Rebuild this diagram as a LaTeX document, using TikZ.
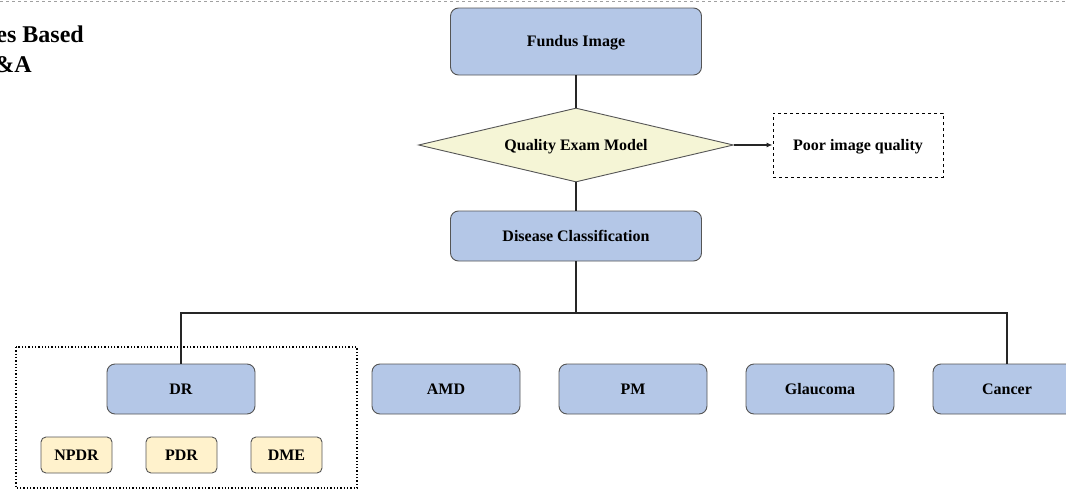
\documentclass[tikz,border=0pt]{standalone}
\usepackage{fontspec}
\setmainfont{Liberation Serif}
\usetikzlibrary{shapes.geometric,arrows.meta}
\definecolor{boxblue}{HTML}{B4C7E7}
\definecolor{boxedge}{HTML}{555555}
\definecolor{subyellow}{HTML}{FFF2CC}
\definecolor{qyellow}{HTML}{F5F5D6}
\definecolor{rulegrey}{HTML}{A0A0A0}
\begin{document}
\begin{tikzpicture}[x=1pt,y=-1pt,
  lbl/.style={font=\fontsize{16}{19}\selectfont\bfseries, text=black,
    text height=10pt, text depth=0pt},
  bluebox/.style={lbl, draw=boxedge, line width=0.9pt, fill=boxblue,
    rounded corners=8pt, inner sep=0pt, minimum width=148pt, minimum height=50pt},
  subbox/.style={lbl, draw=boxedge, line width=0.9pt, fill=subyellow,
    rounded corners=5pt, inner sep=0pt, minimum width=71pt, minimum height=36pt},
  decision/.style={lbl, diamond, draw=boxedge, line width=0.9pt, fill=qyellow,
    inner sep=0pt, aspect=4.26, minimum width=315pt, minimum height=74pt},
  dashbox/.style={lbl, draw=black, dashed, line width=0.9pt, inner sep=0pt,
    minimum width=170pt, minimum height=64pt},
  link/.style={draw=black!85, line width=1.8pt},
  title/.style={font=\fontsize{24}{29}\selectfont\bfseries, inner sep=0pt}
]
\useasboundingbox (0,0) rectangle (1066,490);
\clip (0,0) rectangle (1066,490);

% header rule and title
\draw[rulegrey, dashed, line width=0.8pt] (0,1.5) -- (1066,1.5);
\node[title, anchor=base east] (title1) at (84,42) {es Based};
\node[title, anchor=base east] (title2) at (32,72) {\&A};

% main pipeline
\node[bluebox, minimum width=251pt, minimum height=67pt] (fundus) at (576,41.5) {Fundus Image};
\node[decision] (qem) at (576,145) {Quality Exam Model};
\node[dashbox] (poor) at (858,145) {Poor image quality};
\node[bluebox, minimum width=251pt] (disease) at (576,236) {Disease Classification};

% disease categories
\node[bluebox] (dr) at (181,389) {DR};
\node[bluebox] (amd) at (446,389) {AMD};
\node[bluebox] (pm) at (633,389) {PM};
\node[bluebox] (glaucoma) at (820,389) {Glaucoma};
\node[bluebox] (cancer) at (1007,389) {Cancer};

% DR sub-types
\draw[black, dotted, line width=1.3pt] (16,347) rectangle (357,488);
\node[subbox] (npdr) at (76.5,455) {NPDR};
\node[subbox] (pdr) at (181.5,455) {PDR};
\node[subbox] (dme) at (286.5,455) {DME};

% connectors
\draw[link] (fundus.south) -- (qem.north);
\draw[link, line width=1.4pt, -{Latex[length=6pt,width=5pt]}] (qem.east) -- (poor.west);
\draw[link] (qem.south) -- (disease.north);
\coordinate (bus) at (576,313);
\draw[link] (disease.south) -- (bus);
\draw[link] (bus) -| (dr.north);
\draw[link] (bus) -| (cancer.north);
\end{tikzpicture}
\end{document}
